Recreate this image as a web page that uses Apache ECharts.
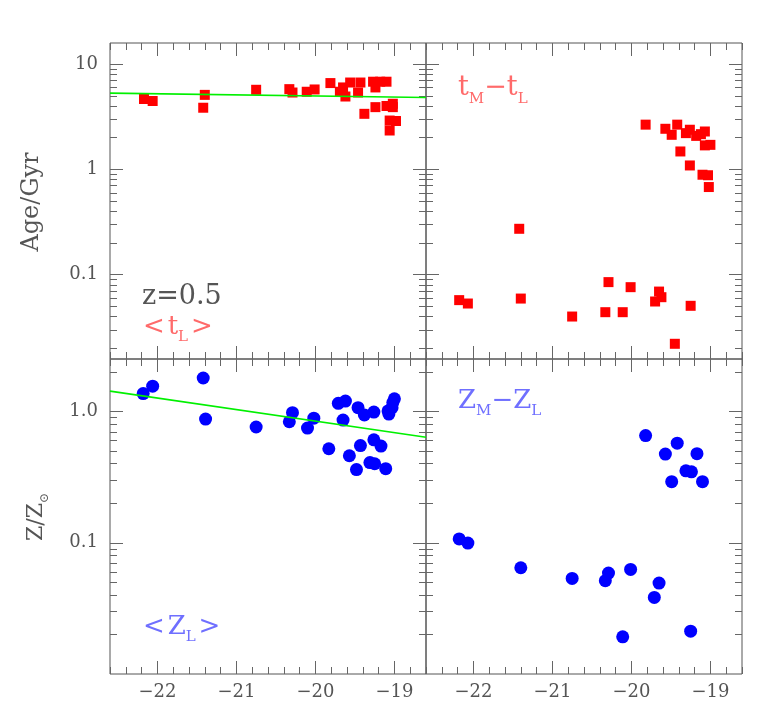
<!DOCTYPE html>
<html><head><meta charset="utf-8">
<script src="https://cdn.jsdelivr.net/npm/echarts@6/dist/echarts.min.js"></script>
<style>html,body{margin:0;padding:0;background:#fff}#c{width:784px;height:701px}</style>
</head><body><div id="c"></div>
<script>
// ---- data ----
const xMajorTicks = [-22, -21, -20, -19];
const ageMajorTicks = [0.1, 1, 10];
const metMajorTicks = [0.1, 1];

// <t_L> : luminosity-weighted age vs magnitude
const ageLX = [-22.17,-22.06,-21.42,-21.40,-20.75,-20.33,-20.29,-20.11,-20.01,-19.81,-19.69,-19.65,-19.62,-19.56,-19.46,-19.43,-19.38,-19.27,-19.24,-19.24,-19.18,-19.10,-19.10,-19.02,-19.02,-19.06,-18.98,-19.06];
const ageLY = [4.66,4.46,3.85,5.10,5.70,5.78,5.37,5.46,5.74,6.60,5.46,6.00,4.92,6.68,5.37,6.68,3.37,6.80,6.00,3.90,6.80,6.80,4.00,4.20,3.90,2.91,2.88,2.34];
// t_M - t_L
const ageDX = [-22.18,-22.07,-21.42,-21.40,-20.75,-20.33,-20.29,-20.11,-20.01,-19.82,-19.70,-19.65,-19.62,-19.57,-19.49,-19.45,-19.42,-19.38,-19.31,-19.26,-19.26,-19.25,-19.18,-19.12,-19.10,-19.07,-19.07,-19.03,-19.02,-19.00];
const ageDY = [0.0574,0.0533,0.273,0.0594,0.0401,0.0441,0.0851,0.0441,0.0762,2.66,0.0557,0.0692,0.0612,2.43,2.13,0.0221,2.66,1.48,2.21,2.38,1.09,0.0507,2.08,2.16,0.89,2.29,1.69,0.88,0.68,1.71];
// <Z_L>
const metLX = [-22.18,-22.06,-21.42,-21.39,-20.75,-20.33,-20.29,-20.10,-20.02,-19.83,-19.71,-19.62,-19.65,-19.57,-19.48,-19.46,-19.43,-19.38,-19.26,-19.26,-19.31,-19.25,-19.17,-19.11,-19.08,-19.07,-19.03,-19.02,-19.00];
const metLY = [1.37,1.56,1.80,0.875,0.762,0.835,0.98,0.748,0.89,0.52,1.155,1.20,0.86,0.46,0.361,1.07,0.55,0.94,0.99,0.608,0.408,0.40,0.545,0.367,1.01,0.955,1.07,1.17,1.25];
// Z_M - Z_L
const metDX = [-19.82,-19.42,-19.57,-19.17,-19.31,-19.24,-19.49,-19.10,-22.18,-22.07,-21.40,-20.75,-20.29,-20.33,-20.01,-19.65,-19.71,-20.11,-19.25];
const metDY = [0.655,0.574,0.474,0.477,0.353,0.347,0.292,0.292,0.107,0.0995,0.0645,0.0535,0.0587,0.0514,0.0626,0.0493,0.0383,0.0192,0.0212];
// fit lines
const ageFitX = [-22.6, -18.6];
const ageFitY = [5.3, 4.82];
const metFitX = [-22.6, -18.6];
const metFitY = [1.43, 0.637];

// ---- axis ranges / tick helpers ----
const XMIN = -22.6, XMAX = -18.6;
const AGE_MIN = Math.pow(10, -1.8), AGE_MAX = Math.pow(10, 1.2);
const MET_MIN = 0.01, MET_MAX = Math.pow(10, 0.4);
const xMinorTicks = [];
for (let i = -113; i <= -93; i++) { const v = +(i * 0.2).toFixed(1); if (!xMajorTicks.includes(v)) xMinorTicks.push(v); }
function logMinors(lo, hi) {
  const out = [];
  for (let e = -2; e <= 1; e++) for (let m = 2; m <= 9; m++) { const v = +(m * Math.pow(10, e)).toPrecision(3); if (v > lo && v < hi) out.push(v); }
  return out;
}
const ageMinorTicks = logMinors(AGE_MIN, AGE_MAX);
const metMinorTicks = logMinors(MET_MIN, MET_MAX);

const TC = '#666';
const FONT = 'DejaVu Serif';
const fmtMinus = v => (v < 0 ? '\u2212' : '') + Math.abs(v);

function xAxes(gi, showLabel) {
  const base = { gridIndex: gi, type: 'value', min: XMIN, max: XMAX, axisLine: { show: false }, splitLine: { show: false } };
  const tick = (vals, len) => ({ show: true, inside: true, length: len, customValues: vals, lineStyle: { color: TC, width: 1 } });
  return [
    Object.assign({}, base, { position: 'bottom', axisTick: tick(xMajorTicks, 13),
      axisLabel: { show: showLabel, customValues: xMajorTicks, formatter: fmtMinus, color: '#555', fontFamily: FONT, fontSize: 18, margin: 9 } }),
    Object.assign({}, base, { position: 'bottom', axisTick: tick(xMinorTicks, 7), axisLabel: { show: false } }),
    Object.assign({}, base, { position: 'top', axisTick: tick(xMajorTicks, 13), axisLabel: { show: false } }),
    Object.assign({}, base, { position: 'top', axisTick: tick(xMinorTicks, 7), axisLabel: { show: false } })
  ];
}
function yAxes(gi, lo, hi, majors, minors, showLabel, fmt) {
  const base = { gridIndex: gi, type: 'log', logBase: 10, min: lo, max: hi, axisLine: { show: false }, splitLine: { show: false } };
  const tick = (vals, len) => ({ show: true, inside: true, length: len, customValues: vals, lineStyle: { color: TC, width: 1 } });
  return [
    Object.assign({}, base, { position: 'left', axisTick: tick(majors, 13),
      axisLabel: { show: showLabel, customValues: majors, formatter: fmt, color: '#555', fontFamily: FONT, fontSize: 18, margin: 12 } }),
    Object.assign({}, base, { position: 'left', axisTick: tick(minors, 7), axisLabel: { show: false } }),
    Object.assign({}, base, { position: 'right', axisTick: tick(majors, 13), axisLabel: { show: false } }),
    Object.assign({}, base, { position: 'right', axisTick: tick(minors, 7), axisLabel: { show: false } })
  ];
}
const fmtAge = v => (v >= 1 ? String(Math.round(v)) : String(+v.toPrecision(1)));
const fmtMet = v => (v >= 1 ? v.toFixed(1) : String(+v.toPrecision(1)));

const zip = (xs, ys) => xs.map((x, i) => [x, ys[i]]);

const grids = [
  { left: 110, top: 43, width: 316, height: 316 },
  { left: 426, top: 43, width: 316, height: 316 },
  { left: 110, top: 359, width: 316, height: 316 },
  { left: 426, top: 359, width: 316, height: 316 }
].map(g => Object.assign(g, { show: true, borderColor: '#555', borderWidth: 1, backgroundColor: 'transparent' }));

const xAxis = [].concat(xAxes(0, false), xAxes(1, false), xAxes(2, true), xAxes(3, true));
const yAxis = [].concat(
  yAxes(0, AGE_MIN, AGE_MAX, ageMajorTicks, ageMinorTicks, true, fmtAge),
  yAxes(1, AGE_MIN, AGE_MAX, ageMajorTicks, ageMinorTicks, false, fmtAge),
  yAxes(2, MET_MIN, MET_MAX, metMajorTicks, metMinorTicks, true, fmtMet),
  yAxes(3, MET_MIN, MET_MAX, metMajorTicks, metMinorTicks, false, fmtMet)
);

const sq = { symbol: 'rect', symbolSize: 10, itemStyle: { color: '#ff0000', opacity: 1 } };
const ci = { symbol: 'circle', symbolSize: 13, itemStyle: { color: '#0000ff', opacity: 1 } };
const fitStyle = { color: '#00f000', width: 1.6 };
const series = [
  Object.assign({ type: 'scatter', xAxisIndex: 0, yAxisIndex: 0, data: zip(ageLX, ageLY), z: 3 }, sq),
  { type: 'line', xAxisIndex: 0, yAxisIndex: 0, data: zip(ageFitX, ageFitY), symbol: 'none', lineStyle: fitStyle, z: 4 },
  Object.assign({ type: 'scatter', xAxisIndex: 4, yAxisIndex: 4, data: zip(ageDX, ageDY) }, sq),
  Object.assign({ type: 'scatter', xAxisIndex: 8, yAxisIndex: 8, data: zip(metLX, metLY), z: 3 }, ci),
  { type: 'line', xAxisIndex: 8, yAxisIndex: 8, data: zip(metFitX, metFitY), symbol: 'none', lineStyle: fitStyle, z: 4 },
  Object.assign({ type: 'scatter', xAxisIndex: 12, yAxisIndex: 12, data: zip(metDX, metDY) }, ci)
];

function label(x, y, text, color, size, subSize, rot) {
  return {
    type: 'text', x: x, y: y, rotation: rot || 0, z: 10,
    style: {
      text: text, fill: color, font: size + 'px "' + FONT + '"', textVerticalAlign: 'middle', textAlign: rot ? 'center' : 'left',
      rich: {
        m: { fontFamily: FONT, fontSize: size, fill: color },
        g: { fontFamily: FONT, fontSize: size * 0.35, fill: color },
        s: { fontFamily: FONT, fontSize: subSize, fill: color, padding: [Math.round(size * 0.8), 0, 0, 0] }
      }
    }
  };
}
const RED = '#ff6a6a', BLUE = '#6f6fff', GRAY = '#555';
const graphic = [
  label(32, 202, '{m|Age/Gyr}', GRAY, 24, 14, Math.PI / 2),
  label(36, 517, '{m|Z/Z}{s|\u2299}', GRAY, 22, 12, Math.PI / 2),
  label(142, 297, '{m|z=0.5}', GRAY, 27, 14),
  label(143, 327, '{m|<}{g| }{m|t}{s|L}{g| }{m|>}', RED, 26, 15),
  label(458, 88, '{m|t}{s|M}{m|\u2212t}{s|L}', RED, 27, 15),
  label(458, 401, '{m|Z}{s|M}{m|\u2212Z}{s|L}', BLUE, 26, 15),
  label(143, 627, '{m|<}{g| }{m|Z}{s|L}{g| }{m|>}', BLUE, 26, 15)
];

const chart = echarts.init(document.getElementById('c'), null, { renderer: 'canvas' });
chart.setOption({ animation: false, backgroundColor: '#fff', grid: grids, xAxis: xAxis, yAxis: yAxis, series: series, graphic: graphic });
</script></body></html>
